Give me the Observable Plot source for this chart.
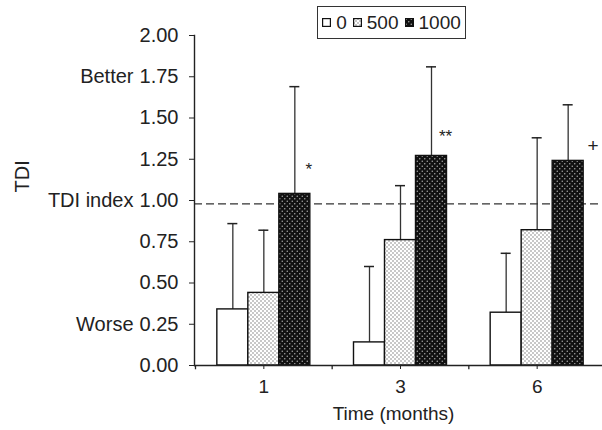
<!DOCTYPE html>
<html><head><meta charset="utf-8">
<script src="https://cdn.jsdelivr.net/npm/d3@7"></script>
<script src="https://cdn.jsdelivr.net/npm/@observablehq/plot@0.6"></script>
<style>
body{margin:0;background:#fff;}
#wrap{position:relative;width:602px;height:430px;font-family:"Liberation Sans",Arial,sans-serif;color:#222;}
#legend{position:absolute;left:317px;top:6px;height:33px;width:149px;box-sizing:border-box;border:1px solid #333;display:flex;align-items:center;justify-content:center;font-size:19px;background:#fff;}
.item{display:flex;align-items:center;margin:0 3px;}
.item svg{margin-right:5px;}
</style></head><body><div id="wrap"><div id="legend"></div></div>
<script>
const times = ["1", "3", "6"];
const doses = ["0", "500", "1000"];
const mean0 = [0.34, 0.14, 0.32];
const mean500 = [0.44, 0.76, 0.82];
const mean1000 = [1.04, 1.27, 1.24];
const sd0 = [0.52, 0.46, 0.36];
const sd500 = [0.38, 0.33, 0.56];
const sd1000 = [0.65, 0.54, 0.34];
const yTicks = [0, 0.25, 0.5, 0.75, 1, 1.25, 1.5, 1.75, 2];
const sideLabels = ["Better", "TDI index", "Worse"];
const sideValues = [1.75, 1.0, 0.25];
const refLine = [0.98];
const sigLabels = ["*", "**", "+"];
const sigTimes = ["1", "3", "6"];
const sigValues = [1.22, 1.42, 1.33];
const yLabel = "TDI";
const xLabel = "Time (months)";

const means = [mean0, mean500, mean1000];
const sds = [sd0, sd500, sd1000];
const rows = [];
doses.forEach((dose, k) => times.forEach((t, j) => rows.push({time: t, dose, mean: means[k][j], sd: sds[k][j]})));
const sig = sigLabels.map((s, i) => ({label: s, time: sigTimes[i], y: sigValues[i]}));

const fills = ["#fff", "url(#patLight)", "url(#patDark)"];
const x0 = 195, x1 = 605;
const step = (x1 - x0) / times.length;
const bw = 31;
const offs = [-bw, 0, bw];

const marks = [];
doses.forEach((dose, k) => {
  const data = rows.filter(d => d.dose === dose);
  marks.push(Plot.ruleX(data, {x: "time", y1: "mean", y2: d => d.mean + d.sd, dx: offs[k], stroke: "#333", strokeWidth: 1.3}));
  marks.push(Plot.tickY(data, {x: "time", y: d => d.mean + d.sd, dx: offs[k], insetLeft: 10.5, insetRight: 10.5, stroke: "#222", strokeWidth: 1.5}));
  marks.push(Plot.barY(data, {x: "time", y: "mean", dx: offs[k], fill: fills[k], stroke: "#111", strokeWidth: 1.4}));
});

const chart = Plot.plot({
  width: 602,
  height: 430,
  marginLeft: 194,
  marginRight: 0,
  marginTop: 35,
  marginBottom: 65,
  style: {fontFamily: "'Liberation Sans', Arial, sans-serif", fontSize: "20px", color: "#222", background: "#fff", overflow: "visible"},
  x: {type: "band", domain: times, range: [x0, x1], paddingInner: 1 - bw / step, paddingOuter: (1 - bw / step) / 2, round: false},
  y: {domain: [0, 2]},
  marks: [
    Plot.ruleY(refLine, {stroke: "#333", strokeWidth: 1.3, strokeDasharray: "8,4"}),
    ...marks,
    Plot.ruleY([0], {stroke: "#222", strokeWidth: 1.4}),
    Plot.frame({anchor: "left", stroke: "#222", strokeWidth: 1.4}),
    Plot.ruleX(times, {x: d => d, dx: -step / 2, y1: 0, y2: -0.026, stroke: "#222", strokeWidth: 1.3}),
    Plot.axisY({ticks: yTicks, tickFormat: d => d.toFixed(2), tickSize: 5, tickPadding: 11, label: null, fontSize: 20}),
    Plot.axisX({tickSize: 4, tickPadding: 10, fontSize: 19, label: null}),
    Plot.text(sideLabels, {y: (d, i) => sideValues[i], text: d => d, frameAnchor: "left", dx: -61, textAnchor: "end", fontSize: 20}),
    Plot.text(sig.slice(0, 2), {x: "time", y: "y", text: "label", dx: 45, dy: 5, fontSize: 17}),
    Plot.text(sig.slice(2), {x: "time", y: "y", text: "label", dx: 56, fontSize: 19, fill: "#222"}),
    Plot.text([yLabel], {text: d => d, frameAnchor: "left", dx: -172, dy: -8, rotate: -90, fontSize: 20}),
    Plot.text([xLabel], {text: d => d, frameAnchor: "bottom", dx: -5, dy: 54, fontSize: 19})
  ]
});

const svg = chart.tagName.toLowerCase() === "svg" ? chart : chart.querySelector("svg");
const defs = d3.select(svg).insert("defs", ":first-child");
const pl = defs.append("pattern").attr("id", "patLight").attr("width", 4).attr("height", 4).attr("patternUnits", "userSpaceOnUse");
pl.append("rect").attr("width", 4).attr("height", 4).attr("fill", "#fff");
pl.append("circle").attr("cx", 1).attr("cy", 1).attr("r", 0.7).attr("fill", "#666");
pl.append("circle").attr("cx", 3).attr("cy", 3).attr("r", 0.7).attr("fill", "#666");
const pd = defs.append("pattern").attr("id", "patDark").attr("width", 5).attr("height", 5).attr("patternUnits", "userSpaceOnUse");
pd.append("rect").attr("width", 5).attr("height", 5).attr("fill", "#111");
pd.append("circle").attr("cx", 1.25).attr("cy", 1.25).attr("r", 0.75).attr("fill", "#aaa");
pd.append("circle").attr("cx", 3.75).attr("cy", 3.75).attr("r", 0.75).attr("fill", "#aaa");

document.getElementById("wrap").appendChild(chart);

const legend = d3.select("#legend");
doses.forEach((dose, k) => {
  const it = legend.append("div").attr("class", "item");
  const s = it.append("svg").attr("width", 9).attr("height", 9);
  s.append("rect").attr("x", 0.6).attr("y", 0.6).attr("width", 7.8).attr("height", 7.8).attr("fill", fills[k]).attr("stroke", "#111").attr("stroke-width", 1.2);
  it.append("span").text(dose);
});
</script></body></html>
